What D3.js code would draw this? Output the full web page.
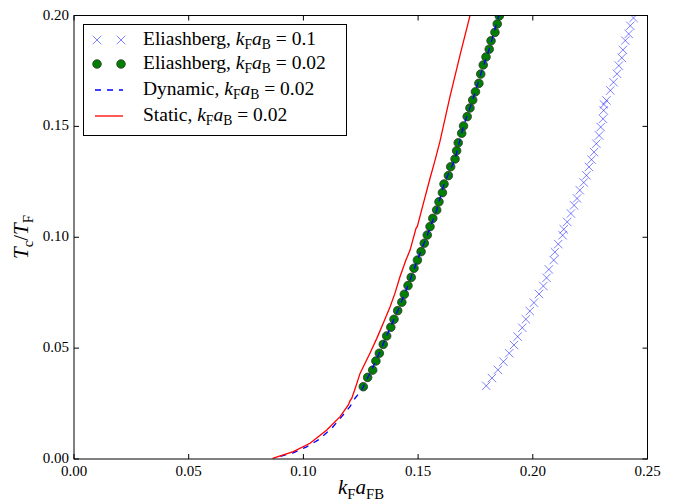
<!DOCTYPE html>
<html lang="en">
<head>
<meta charset="UTF-8">
<title>Tc vs kF aFB</title>
<script src="https://d3js.org/d3.v7.min.js"></script>
<style>
    body { margin: 0; padding: 0; background: #fff; }
    svg { display: block; }
    text { font-family: "Liberation Serif", "DejaVu Serif", serif; fill: #000; }
</style>
</head>
<body>
<div id="chart"></div>
<script>
// Eliashberg, kF aB = 0.1 (blue crosses)
const eli01X = [0.1797, 0.1822, 0.1848, 0.1872, 0.1897, 0.1918, 0.1934, 0.1954, 0.1970, 0.1987,
    0.2005, 0.2027, 0.2046, 0.2060, 0.2070, 0.2091, 0.2096, 0.2111, 0.2130, 0.2135,
    0.2150, 0.2166, 0.2180, 0.2193, 0.2205, 0.2222, 0.2234, 0.2245, 0.2256, 0.2267,
    0.2277, 0.2289, 0.2296, 0.2306, 0.2309, 0.2310, 0.2321, 0.2338, 0.2352, 0.2367,
    0.2375, 0.2388, 0.2393, 0.2403, 0.2418, 0.2425, 0.2439];
const eli01Y = [0.0330, 0.0365, 0.0402, 0.0439, 0.0477, 0.0514, 0.0552, 0.0592, 0.0630, 0.0667,
    0.0705, 0.0744, 0.0780, 0.0817, 0.0855, 0.0897, 0.0933, 0.0969, 0.1009, 0.1036,
    0.1069, 0.1107, 0.1144, 0.1175, 0.1212, 0.1247, 0.1279, 0.1317, 0.1350, 0.1384,
    0.1422, 0.1459, 0.1497, 0.1534, 0.1572, 0.1599, 0.1617, 0.1662, 0.1699, 0.1737,
    0.1774, 0.1809, 0.1845, 0.1887, 0.1917, 0.1954, 0.1989];

// Eliashberg, kF aB = 0.02 (green dots)
const eli002X = [0.1261, 0.1280, 0.1302, 0.1316, 0.1331, 0.1348, 0.1363, 0.1381, 0.1395, 0.1411,
    0.1429, 0.1440, 0.1456, 0.1470, 0.1482, 0.1497, 0.1513, 0.1527, 0.1540, 0.1552,
    0.1564, 0.1581, 0.1591, 0.1606, 0.1613, 0.1632, 0.1642, 0.1661, 0.1668, 0.1675,
    0.1690, 0.1698, 0.1714, 0.1726, 0.1738, 0.1750, 0.1765, 0.1773, 0.1784, 0.1796,
    0.1810, 0.1818, 0.1835, 0.1845, 0.1854];
const eli002Y = [0.0326, 0.0368, 0.0401, 0.0442, 0.0477, 0.0517, 0.0555, 0.0594, 0.0630, 0.0669,
    0.0707, 0.0743, 0.0782, 0.0819, 0.0860, 0.0897, 0.0935, 0.0973, 0.1010, 0.1048,
    0.1085, 0.1123, 0.1160, 0.1201, 0.1240, 0.1278, 0.1318, 0.1353, 0.1390, 0.1426,
    0.1469, 0.1502, 0.1544, 0.1583, 0.1619, 0.1656, 0.1694, 0.1736, 0.1777, 0.1813,
    0.1848, 0.1886, 0.1924, 0.1962, 0.1998];

// Dynamic, kF aB = 0.02 (blue dashed)
const dynX = [0.0900, 0.0956, 0.1014, 0.1065, 0.1123, 0.1167, 0.1203, 0.1225, 0.1254, 0.1316,
    0.1363, 0.1411, 0.1456, 0.1497, 0.1540, 0.1581, 0.1613, 0.1661, 0.1698, 0.1738,
    0.1773, 0.1810, 0.1852];
const dynY = [0.0012, 0.0028, 0.0055, 0.0086, 0.0138, 0.0191, 0.0236, 0.0274, 0.0311, 0.0442,
    0.0555, 0.0669, 0.0782, 0.0897, 0.1010, 0.1123, 0.1240, 0.1353, 0.1502, 0.1619,
    0.1736, 0.1848, 0.2000];

// Static, kF aB = 0.02 (red line)
const statX = [0.0866, 0.0956, 0.1029, 0.1102, 0.1160, 0.1196, 0.1203, 0.1211, 0.1226, 0.1247,
    0.1290, 0.1320, 0.1348, 0.1378, 0.1399, 0.1421, 0.1447, 0.1465, 0.1491, 0.1497,
    0.1523, 0.1552, 0.1574, 0.1595, 0.1639, 0.1683, 0.1726];
const statY = [0.0003, 0.0033, 0.0071, 0.0131, 0.0191, 0.0244, 0.0262, 0.0274, 0.0319, 0.0386,
    0.0477, 0.0544, 0.0612, 0.0687, 0.0747, 0.0822, 0.0897, 0.0942, 0.1040, 0.1050,
    0.1153, 0.1266, 0.1348, 0.1431, 0.1634, 0.1822, 0.1998];

const xTicks = [0, 0.05, 0.10, 0.15, 0.20, 0.25];
const yTicks = [0, 0.05, 0.10, 0.15, 0.20];

const width = 676, height = 501;
const pLeft = 74, pRight = 647.5, pTop = 15.5, pBottom = 459;

const svg = d3.select('#chart').append('svg')
    .attr('width', width)
    .attr('height', height);

const x = d3.scaleLinear().domain([0, 0.25]).range([pLeft, pRight]);
const y = d3.scaleLinear().domain([0, 0.20]).range([pBottom, pTop]);

const zip = (a, b) => a.map((v, i) => [v, b[i]]);

svg.append('defs').append('clipPath').attr('id', 'clip')
    .append('rect').attr('x', pLeft).attr('y', pTop)
    .attr('width', pRight - pLeft).attr('height', pBottom - pTop);

const layer = svg.append('g').attr('clip-path', 'url(#clip)');

const line = d3.line().x(d => x(d[0])).y(d => y(d[1]));

// crosses
function crossPath(cx, cy, r) {
    return `M${cx - r},${cy - r}L${cx + r},${cy + r}M${cx - r},${cy + r}L${cx + r},${cy - r}`;
}
layer.selectAll('.cross')
    .data(zip(eli01X, eli01Y))
    .enter().append('path')
    .attr('class', 'cross')
    .attr('d', d => crossPath(x(d[0]), y(d[1]), 4.2))
    .attr('stroke', '#0000ff')
    .attr('stroke-opacity', 0.5)
    .attr('stroke-width', 1)
    .attr('fill', 'none');

// green dots
layer.selectAll('.dot')
    .data(zip(eli002X, eli002Y))
    .enter().append('circle')
    .attr('class', 'dot')
    .attr('cx', d => x(d[0]))
    .attr('cy', d => y(d[1]))
    .attr('r', 4.3)
    .attr('fill', '#007f00')
    .attr('stroke', '#333')
    .attr('stroke-width', 0.8);

// dynamic (dashed)
layer.append('path')
    .datum(zip(dynX, dynY))
    .attr('d', line)
    .attr('fill', 'none')
    .attr('stroke', '#0000ff')
    .attr('stroke-width', 1.3)
    .attr('stroke-dasharray', '6,6');

// static
layer.append('path')
    .datum(zip(statX, statY))
    .attr('d', line)
    .attr('fill', 'none')
    .attr('stroke', '#ff0000')
    .attr('stroke-width', 1.3);

// frame
svg.append('rect')
    .attr('x', pLeft).attr('y', pTop)
    .attr('width', pRight - pLeft).attr('height', pBottom - pTop)
    .attr('fill', 'none').attr('stroke', '#000').attr('stroke-width', 1);

// ticks (inside, all four sides)
const tl = 5;
xTicks.forEach(t => {
    svg.append('line').attr('x1', x(t)).attr('x2', x(t)).attr('y1', pBottom).attr('y2', pBottom - tl).attr('stroke', '#000');
    svg.append('line').attr('x1', x(t)).attr('x2', x(t)).attr('y1', pTop).attr('y2', pTop + tl).attr('stroke', '#000');
    svg.append('text').attr('x', x(t)).attr('y', pBottom + 17)
        .attr('text-anchor', 'middle').attr('font-size', 15).text(t.toFixed(2));
});
yTicks.forEach(t => {
    svg.append('line').attr('x1', pLeft).attr('x2', pLeft + tl).attr('y1', y(t)).attr('y2', y(t)).attr('stroke', '#000');
    svg.append('line').attr('x1', pRight).attr('x2', pRight - tl).attr('y1', y(t)).attr('y2', y(t)).attr('stroke', '#000');
    svg.append('text').attr('x', pLeft - 5).attr('y', y(t) + 4)
        .attr('text-anchor', 'end').attr('font-size', 15).text(t.toFixed(2));
});

// axis labels
function mathLabel(sel, parts, size) {
    parts.forEach(p => {
        const ts = sel.append('tspan').text(p.t);
        if (p.i) ts.attr('font-style', 'italic');
        if (p.s) ts.attr('font-size', size * 0.7).attr('dy', size * 0.22);
        if (p.u) ts.attr('dy', -size * 0.22);
    });
}

const xl = svg.append('text').attr('x', 361).attr('y', 494)
    .attr('text-anchor', 'middle').attr('font-size', 21);
mathLabel(xl, [{ t: 'k', i: 1 }, { t: 'F', s: 1 }, { t: 'a', i: 1, u: 1 }, { t: 'FB', s: 1 }], 21);

const yl = svg.append('text').attr('transform', 'translate(28,237) rotate(-90)')
    .attr('text-anchor', 'middle').attr('font-size', 21);
mathLabel(yl, [{ t: 'T', i: 1 }, { t: 'c', s: 1 }, { t: '/', u: 1 }, { t: 'T', i: 1 }, { t: 'F', s: 1 }], 21);

// legend
const lg = svg.append('g');
lg.append('rect').attr('x', 83.5).attr('y', 24.5).attr('width', 263).attr('height', 111)
    .attr('fill', '#fff').attr('stroke', '#000').attr('stroke-width', 1);

const rows = [
    { name: 'Eliashberg, ', val: '0.1', kind: 'cross' },
    { name: 'Eliashberg, ', val: '0.02', kind: 'dot' },
    { name: 'Dynamic, ', val: '0.02', kind: 'dash' },
    { name: 'Static, ', val: '0.02', kind: 'line' }
];
const rowY = [40, 64, 90, 116];
rows.forEach((r, i) => {
    const yy = rowY[i];
    if (r.kind === 'cross') {
        [97, 121].forEach(cx => lg.append('path').attr('d', crossPath(cx, yy, 4.2))
            .attr('stroke', '#0000ff').attr('stroke-opacity', 0.5).attr('fill', 'none'));
    } else if (r.kind === 'dot') {
        [97, 121].forEach(cx => lg.append('circle').attr('cx', cx).attr('cy', yy).attr('r', 4.3)
            .attr('fill', '#007f00').attr('stroke', '#333').attr('stroke-width', 0.8));
    } else {
        lg.append('line').attr('x1', 95).attr('x2', 123).attr('y1', yy).attr('y2', yy)
            .attr('stroke', r.kind === 'dash' ? '#0000ff' : '#ff0000').attr('stroke-width', 1.3)
            .attr('stroke-dasharray', r.kind === 'dash' ? '6,6' : null);
    }
    const t = lg.append('text').attr('x', 143).attr('y', yy + 5).attr('font-size', 19.5);
    mathLabel(t, [{ t: r.name }, { t: 'k', i: 1 }, { t: 'F', s: 1 }, { t: 'a', i: 1, u: 1 }, { t: 'B', s: 1 },
        { t: ' = ' + r.val, u: 1 }], 19.5);
});
</script>
</body>
</html>
